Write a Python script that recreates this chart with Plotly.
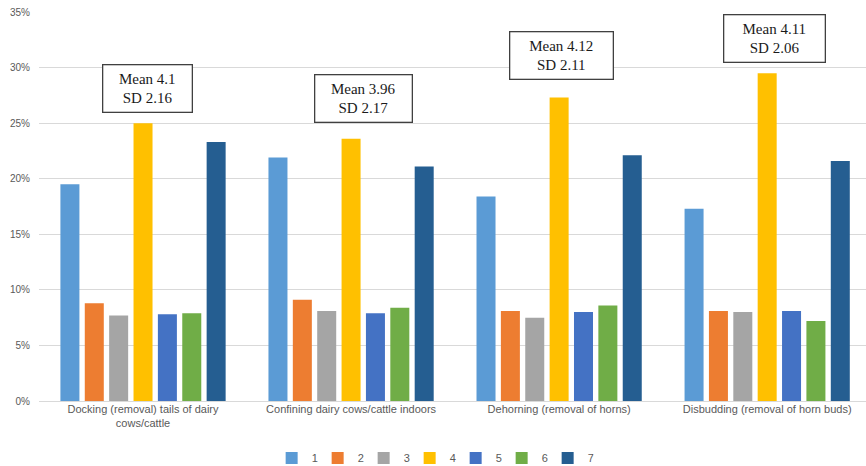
import plotly.graph_objects as go

categories = [
    "Docking (removal) tails of dairy<br>cows/cattle",
    "Confining dairy cows/cattle indoors",
    "Dehorning (removal of horns)",
    "Disbudding (removal of horn buds)",
]
series_names = ["1", "2", "3", "4", "5", "6", "7"]
# percentages per rating (rows = rating 1..7, columns = categories)
s1 = [19.5, 21.9, 18.4, 17.3]
s2 = [8.8, 9.1, 8.1, 8.1]
s3 = [7.7, 8.1, 7.5, 8.0]
s4 = [25.0, 23.6, 27.3, 29.5]
s5 = [7.8, 7.9, 8.0, 8.1]
s6 = [7.9, 8.4, 8.6, 7.2]
s7 = [23.3, 21.1, 22.1, 21.6]
series_values = [s1, s2, s3, s4, s5, s6, s7]
colors = ["#5B9BD5", "#ED7D31", "#A5A5A5", "#FFC000", "#4472C4", "#70AD47", "#255E91"]

means = ["4.1", "3.96", "4.12", "4.11"]
sds = ["2.16", "2.17", "2.11", "2.06"]
tick_vals = [0, 5, 10, 15, 20, 25, 30, 35]
tick_text = ["0%", "5%", "10%", "15%", "20%", "25%", "30%", "35%"]

fig = go.Figure()
xs = list(range(len(categories)))
for name, vals, col in zip(series_names, series_values, colors):
    fig.add_trace(go.Bar(x=xs, y=vals, name=name, marker=dict(color=col, line=dict(width=0))))

# annotation boxes (position offsets in category units and percent)
box_dx = [0.02, 0.06, 0.01, 0.035]
box_y = [28.1, 27.2, 31.1, 32.6]
box_w = [82, 90, 96, 94]
for i in range(len(categories)):
    fig.add_annotation(
        x=xs[i] + box_dx[i], y=box_y[i], xref="x", yref="y",
        text=f"Mean {means[i]}<br>SD {sds[i]}",
        showarrow=False,
        font=dict(family="Liberation Serif", size=15, color="#1a1a1a"),
        bordercolor="#404040", borderwidth=1.3, borderpad=3,
        bgcolor="white", width=box_w[i], height=40,
    )

fig.update_layout(
    width=866, height=466,
    margin=dict(l=39, r=0, t=12, b=65, autoexpand=False),
    paper_bgcolor="white", plot_bgcolor="white",
    barmode="group", bargap=0.18, bargroupgap=0.22,
    font=dict(family="Liberation Sans", color="#595959"),
    legend=dict(orientation="h", x=0.476, xanchor="center",
                yref="container", y=0.017, yanchor="middle",
                font=dict(size=11, color="#595959"), itemwidth=30, entrywidth=1,
                traceorder="normal"),
    xaxis=dict(tickvals=xs, ticktext=categories, range=[-0.5, 3.475],
               showgrid=False, zeroline=False, showline=False, ticks="",
               automargin=False,
               tickfont=dict(size=11, color="#595959")),
    yaxis=dict(range=[0, 35], tickvals=tick_vals, ticktext=tick_text,
               showgrid=True, gridcolor="#D9D9D9", gridwidth=1, zeroline=True,
               zerolinecolor="#D9D9D9", zerolinewidth=1, showline=False,
               automargin=False,
               tickfont=dict(size=10, color="#595959"), ticklabelstandoff=8),
)

fig.write_html("out.html")
